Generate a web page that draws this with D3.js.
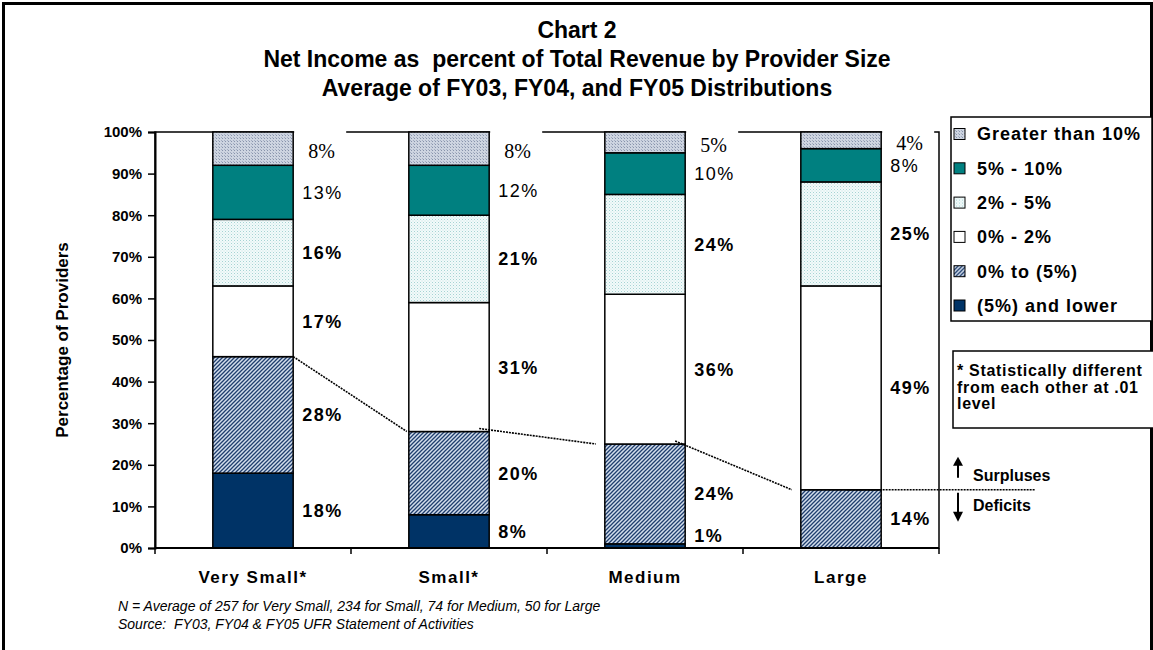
<!DOCTYPE html>
<html>
<head>
<meta charset="utf-8">
<script src="https://cdn.jsdelivr.net/npm/d3@7"></script>
<style>
body { margin: 0; background: #fff; }
svg { display: block; font-family: Arial, "Liberation Sans", sans-serif; }
svg text { white-space: pre; }
</style>
</head>
<body>
<div id="chart"></div>
<script>
// values, bottom of each stack first
var categories = ["Very Small*", "Small*", "Medium", "Large"];
var seriesNames = ["(5%) and lower", "0% to (5%)", "0% - 2%", "2% - 5%", "5% - 10%", "Greater than 10%"];
var lowest = [18, 8, 1, 0];
var negSmall = [28, 20, 24, 14];
var zeroTo2 = [17, 31, 36, 49];
var twoTo5 = [16, 21, 24, 25];
var fiveTo10 = [13, 12, 10, 8];
var over10 = [8, 8, 5, 4];
var yTicks = [0, 10, 20, 30, 40, 50, 60, 70, 80, 90, 100];
var titleLines = ["Chart 2", "Net Income as  percent of Total Revenue by Provider Size", "Average of FY03, FY04, and FY05 Distributions"];
var noteLines = ["N = Average of 257 for Very Small, 234 for Small, 74 for Medium, 50 for Large", "Source:  FY03, FY04 & FY05 UFR Statement of Activities"];
var boxLines = ["* Statistically different", "from each other at .01", "level"];

const width = 1153, height = 650;
var plotL = 155, plotR = 939, plotT = 132, plotB = 548;

var table = categories.map((c, i) => ({
  cat: c, s0: lowest[i], s1: negSmall[i], s2: zeroTo2[i], s3: twoTo5[i], s4: fiveTo10[i], s5: over10[i]
}));
var keys = ["s0", "s1", "s2", "s3", "s4", "s5"];
var stacked = d3.stack().keys(keys)(table);

var svg = d3.select("#chart").append("svg")
  .attr("width", width)
  .attr("height", height);

// fills
var defs = svg.append("defs");
var p5 = defs.append("pattern").attr("id", "pOver10").attr("patternUnits", "userSpaceOnUse")
  .attr("width", 3).attr("height", 3);
p5.append("rect").attr("width", 3).attr("height", 3).attr("fill", "#cdd4e0");
p5.append("rect").attr("width", 1).attr("height", 1).attr("fill", "#8793ab");
p5.append("rect").attr("x", 2).attr("y", 2).attr("width", 1).attr("height", 1).attr("fill", "#a4aec2");

var p3 = defs.append("pattern").attr("id", "pTwo5").attr("patternUnits", "userSpaceOnUse")
  .attr("width", 3).attr("height", 3);
p3.append("rect").attr("width", 3).attr("height", 3).attr("fill", "#f2fafa");
p3.append("rect").attr("width", 1).attr("height", 1).attr("fill", "#a6d3d3");
p3.append("rect").attr("x", 1.5).attr("y", 1.5).attr("width", 1).attr("height", 1).attr("fill", "#c6e4e4");

var p1 = defs.append("pattern").attr("id", "pNeg").attr("patternUnits", "userSpaceOnUse")
  .attr("width", 4).attr("height", 4);
p1.append("rect").attr("width", 4).attr("height", 4).attr("fill", "#d3deec");
p1.append("path").attr("d", "M-1,1 L1,-1 M0,4 L4,0 M3,5 L5,3")
  .attr("stroke", "#1f3e6e").attr("stroke-width", 1.3);

var fills = ["#003366", "url(#pNeg)", "#ffffff", "url(#pTwo5)", "#008080", "url(#pOver10)"];

// outer frame
svg.append("rect").attr("x", 3.5).attr("y", 3.5).attr("width", width - 5).attr("height", height + 20)
  .attr("fill", "none").attr("stroke", "#000").attr("stroke-width", 3);

// title
svg.append("g").selectAll("text").data(titleLines).enter().append("text")
  .attr("x", 577).attr("y", (d, i) => 38 + i * 29)
  .attr("text-anchor", "middle")
  .style("font-size", "23px").style("font-weight", "bold")
  .text(d => d);

var x = d3.scaleBand().domain(categories).range([plotL, plotR]).paddingInner(0.59).paddingOuter(0.295);
var y = d3.scaleLinear().domain([0, 100]).range([plotB, plotT]);
var bw = x.bandwidth();

// plot border (top & right)
svg.append("rect").attr("x", plotL).attr("y", plotT).attr("width", plotR - plotL).attr("height", plotB - plotT)
  .attr("fill", "none").attr("stroke", "#000").attr("stroke-width", 1.5);

// bars
var layers = svg.append("g").selectAll("g").data(stacked).enter().append("g")
  .attr("fill", (d, i) => fills[i]);
layers.selectAll("rect").data(d => d.filter(v => v[1] > v[0])).enter().append("rect")
  .attr("x", d => x(d.data.cat))
  .attr("y", d => y(d[1]))
  .attr("width", bw)
  .attr("height", d => y(d[0]) - y(d[1]))
  .attr("stroke", "#000").attr("stroke-width", 1.5);

// white patch behind the top labels, cutting the plot border
var topLayer = stacked[stacked.length - 1];
svg.append("g").selectAll("rect").data(topLayer).enter().append("rect")
  .attr("x", d => x(d.data.cat) + bw + 1).attr("y", plotT - 3)
  .attr("width", 52).attr("height", 12).attr("fill", "#fff");

// data labels
var labelG = svg.append("g");
stacked.forEach((layer, li) => {
  layer.forEach(d => {
    var v = d[1] - d[0];
    if (v <= 0) return;
    var ly = Math.min((y(d[0]) + y(d[1])) / 2, y(0) - 12);
    var lx = x(d.data.cat) + bw + (li == 5 ? 15 : 9);
    labelG.append("text")
      .attr("x", lx).attr("y", ly + (li == 5 ? 2 : 0)).attr("dy", "0.36em")
      .style("font-size", li == 5 ? "20px" : "18px")
      .style("letter-spacing", li == 5 ? null : "1.5px")
      .style("font-family", li == 5 ? "'Liberation Serif', 'Times New Roman', serif" : null)
      .style("font-weight", li < 4 ? "bold" : "normal")
      .text(v + "%");
  });
});

// axes
var yAxis = svg.append("g").attr("transform", "translate(" + plotL + ",0)")
  .call(d3.axisLeft(y).tickValues(yTicks).tickSize(7).tickPadding(6).tickFormat(d => d + "%"));
yAxis.selectAll("text").style("font-size", "15px").style("font-weight", "bold").attr("fill", "#000")
  .style("font-family", "Arial, 'Liberation Sans', sans-serif");
yAxis.selectAll("line").attr("stroke-width", 1.5);
yAxis.select(".domain").attr("stroke-width", 2);

var xAxis = svg.append("g").attr("transform", "translate(0," + plotB + ")");
xAxis.append("line").attr("x1", plotL).attr("x2", plotR).attr("stroke", "#000").attr("stroke-width", 2);
xAxis.selectAll("line.tk").data(d3.range(categories.length + 1)).enter().append("line")
  .attr("class", "tk")
  .attr("x1", i => plotL + x.step() * i).attr("x2", i => plotL + x.step() * i)
  .attr("y1", 0).attr("y2", 6).attr("stroke", "#000").attr("stroke-width", 1.5);
xAxis.selectAll("text").data(categories).enter().append("text")
  .attr("x", d => x(d) + bw / 2).attr("y", 35)
  .attr("text-anchor", "middle")
  .style("font-size", "17px").style("font-weight", "bold").style("letter-spacing", "1.5px")
  .text(d => d);

svg.append("text")
  .attr("transform", "translate(68," + ((plotT + plotB) / 2) + ") rotate(-90)")
  .attr("text-anchor", "middle")
  .style("font-size", "17px").style("font-weight", "bold")
  .text("Percentage of Providers");

// dotted series lines joining the deficit shares
var deficit = categories.map((c, i) => lowest[i] + negSmall[i]);
var segs = d3.range(categories.length - 1);
svg.append("g").selectAll("line").data(segs).enter().append("line")
  .attr("x1", i => x(categories[i]) + bw - (i ? 10 : 0))
  .attr("y1", i => y(deficit[i]) - (i ? 3 : 0))
  .attr("x2", i => x(categories[i + 1]) - (i ? 9 : 2))
  .attr("y2", i => y(deficit[i + 1]))
  .attr("stroke", "#000").attr("stroke-width", 1.6).attr("stroke-dasharray", "2,1");

var last = categories.length - 1;
var yl = y(deficit[last]);
svg.append("line")
  .attr("x1", x(categories[last]) + bw * 0.57).attr("x2", 1035)
  .attr("y1", yl).attr("y2", yl)
  .attr("stroke", "#000").attr("stroke-width", 1.6).attr("stroke-dasharray", "2,1");

// surplus / deficit markers
svg.append("path").attr("d", "M958," + (yl - 12) + " V" + (yl - 26))
  .attr("stroke", "#000").attr("stroke-width", 2);
svg.append("path").attr("d", "M953," + (yl - 24) + " L958," + (yl - 33) + " L963," + (yl - 24) + " Z");
svg.append("path").attr("d", "M958," + (yl + 3) + " V" + (yl + 24))
  .attr("stroke", "#000").attr("stroke-width", 2);
svg.append("path").attr("d", "M953," + (yl + 22) + " L958," + (yl + 32) + " L963," + (yl + 22) + " Z");
svg.append("text").attr("x", 973).attr("y", yl - 15).attr("dy", "0.36em")
  .style("font-size", "16px").style("font-weight", "bold").text("Surpluses");
svg.append("text").attr("x", 973).attr("y", yl + 15).attr("dy", "0.36em")
  .style("font-size", "16px").style("font-weight", "bold").text("Deficits");

// legend
var legend = svg.append("g");
legend.append("rect").attr("x", 951).attr("y", 117).attr("width", 201).attr("height", 204)
  .attr("fill", "#fff").attr("stroke", "#000").attr("stroke-width", 1.5);
var lorder = d3.range(seriesNames.length).reverse();
var items = legend.selectAll("g.item").data(lorder).enter().append("g")
  .attr("class", "item")
  .attr("transform", (d, i) => "translate(953," + (134 + i * 34.3) + ")");
items.append("rect").attr("x", 1).attr("y", -5.5).attr("width", 11).attr("height", 11)
  .attr("fill", d => fills[d]).attr("stroke", "#000").attr("stroke-width", 1);
items.append("text").attr("x", 24).attr("dy", "0.36em")
  .style("font-size", "18px").style("font-weight", "bold").style("letter-spacing", "1px")
  .text(d => seriesNames[d]);

// significance note
var note = svg.append("g");
note.append("rect").attr("x", 953).attr("y", 351).attr("width", 202).attr("height", 77)
  .attr("fill", "#fff").attr("stroke", "#000").attr("stroke-width", 1.5);
note.selectAll("text").data(boxLines).enter().append("text")
  .attr("x", 957).attr("y", (d, i) => 376 + i * 16.5)
  .style("font-size", "16px").style("font-weight", "bold").style("letter-spacing", "0.7px")
  .text(d => d);

// footnotes
svg.append("g").selectAll("text").data(noteLines).enter().append("text")
  .attr("x", 118).attr("y", (d, i) => 611 + i * 18)
  .style("font-size", "14px").style("font-style", "italic")
  .text(d => d);
</script>
</body>
</html>
